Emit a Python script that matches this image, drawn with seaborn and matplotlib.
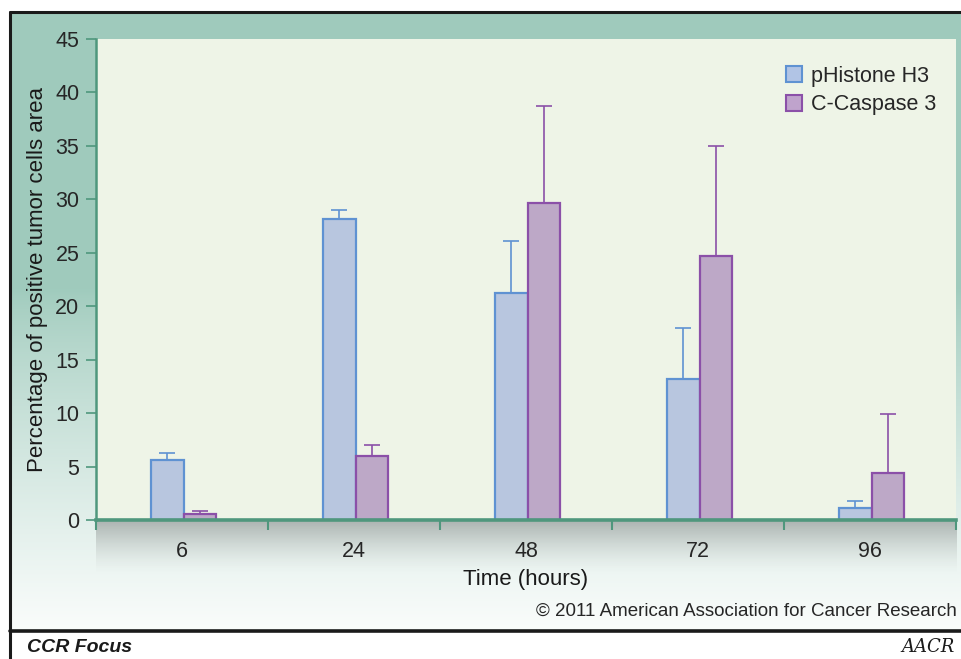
import numpy as np
import pandas as pd
import seaborn as sns
import matplotlib.pyplot as plt
from matplotlib.patches import Patch

# data
hours = ['6', '24', '48', '72', '96']
phistone = [5.6, 28.2, 21.2, 13.2, 1.1]
phistone_err = [0.7, 0.8, 4.9, 4.8, 0.7]
caspase = [0.55, 6.0, 29.7, 24.7, 4.4]
caspase_err = [0.25, 1.0, 9.0, 10.3, 5.5]
series = ['pHistone H3', 'C-Caspase 3']

fill = {'pHistone H3': '#b1c4e5', 'C-Caspase 3': '#bfa3cc'}
edge = {'pHistone H3': '#5f92d2', 'C-Caspase 3': '#8b50a8'}

df = pd.DataFrame({
    'hours': hours * 2,
    'value': phistone + caspase,
    'err': phistone_err + caspase_err,
    'series': [series[0]] * 5 + [series[1]] * 5,
})

sns.set_style('white')
plt.rcParams['font.family'] = ['Liberation Sans', 'DejaVu Sans']

W, H = 961, 659
fig = plt.figure(figsize=(W / 100, H / 100), dpi=100)
fig.patch.set_facecolor('white')

# panel background gradient (teal -> white)
bg = fig.add_axes([10 / W, 1 - 630 / H, 1 - 10 / W, (630 - 12) / H], zorder=0)
t = np.linspace(0, 1, 300)
r = np.clip((t - 0.45) / 0.55, 0, 1) ** 0.8
top = np.array([0.627, 0.796, 0.741])
bot = np.array([0.98, 0.99, 0.985])
grad = top[None, :] * (1 - r[:, None]) + bot[None, :] * r[:, None]
bg.imshow(grad[:, None, :], aspect='auto', extent=[0, 1, 0, 1])
bg.set_axis_off()

# shadow under plot area
sh = fig.add_axes([96 / W, 1 - 575 / H, (957 - 96) / W, 55 / H], zorder=1)
a = np.linspace(0.55, 0, 100) ** 1.5
shade = np.zeros((100, 1, 4))
shade[:, 0, :3] = 0.35
shade[:, 0, 3] = a
sh.imshow(shade, aspect='auto', extent=[0, 1, 0, 1])
sh.set_axis_off()

ax = fig.add_axes([96 / W, 1 - 520 / H, (956 - 96) / W, (520 - 39) / H], zorder=2)
ax.set_facecolor('#eef4e7')

sns.barplot(data=df, x='hours', y='value', hue='series', order=hours,
            hue_order=series, palette=fill, width=0.38, errorbar=None,
            linewidth=1.6, ax=ax, legend=False)

# edges + upper error bars
for container, name in zip(ax.containers, series):
    sub = df[df['series'] == name].set_index('hours').loc[hours]
    xs, ys = [], []
    for bar in container:
        bar.set_edgecolor(edge[name])
        bar.set_x(bar.get_x() + 0.01)
        xs.append(bar.get_x() + bar.get_width() / 2)
        ys.append(bar.get_height())
    ax.errorbar(xs, ys, yerr=[np.zeros(5), sub['err'].values], fmt='none',
                ecolor=edge[name], elinewidth=1.2, capsize=6, capthick=1.2,
                zorder=1)

ax.set_ylim(0, 45)
ax.set_xlim(-0.5, 4.5)
ax.set_yticks(range(0, 46, 5))
ax.set_xticks(np.arange(-0.5, 5, 1), minor=True)

green = '#4f977d'
for s in ['top', 'right']:
    ax.spines[s].set_visible(False)
ax.spines['left'].set_color(green)
ax.spines['left'].set_linewidth(1.8)
ax.spines['bottom'].set_color(green)
ax.spines['bottom'].set_linewidth(2.6)
ax.tick_params(axis='y', which='major', direction='out', length=7, width=1.2,
               color=green, labelsize=15.5, labelcolor='#262626', pad=5, left=True)
ax.tick_params(axis='x', which='major', length=0, labelsize=15.5,
               labelcolor='#262626', pad=15)
ax.tick_params(axis='x', which='minor', direction='out', length=7, width=1.5,
               color=green, bottom=True)

ax.set_xlabel('Time (hours)', fontsize=16, color='#1a1a1a', labelpad=5)
ax.set_ylabel('Percentage of positive tumor cells area', fontsize=16,
              color='#1a1a1a', labelpad=5)

handles = [Patch(facecolor=fill[n], edgecolor=edge[n], linewidth=1.5, label=n)
           for n in series]
ax.legend(handles=handles, loc='upper right', frameon=False, fontsize=15.5,
          handlelength=0.75, handleheight=0.75, handletextpad=0.45,
          labelspacing=0.35, bbox_to_anchor=(1.0, 0.985))

# frame lines and footer
fig.add_artist(plt.Line2D([10 / W, 1], [1 - 12 / H] * 2, color='#1a1a1a', lw=2.2))
fig.add_artist(plt.Line2D([10 / W] * 2, [0, 1 - 12 / H], color='#1a1a1a', lw=2.2))
fig.add_artist(plt.Line2D([10 / W, 1], [1 - 631 / H] * 2, color='#1a1a1a', lw=2.6))
fig.patches.append(plt.Rectangle((11 / W, 0), 1, (659 - 632) / H,
                                 transform=fig.transFigure, color='white', zorder=0))

fig.text(957 / W, 1 - 611 / H, '\u00a9 2011 American Association for Cancer Research',
         ha='right', va='center', fontsize=13.5, color='#262626')
fig.text(27 / W, 1 - 648 / H, 'CCR Focus', ha='left', va='center', fontsize=14,
         fontweight='bold', fontstyle='italic', color='#1a1a1a')
fig.text(955 / W, 1 - 647 / H, 'AACR', ha='right', va='center', fontsize=13,
         fontstyle='italic', family='DejaVu Serif', color='#1a1a1a')

fig.savefig('out.png', dpi=100)
